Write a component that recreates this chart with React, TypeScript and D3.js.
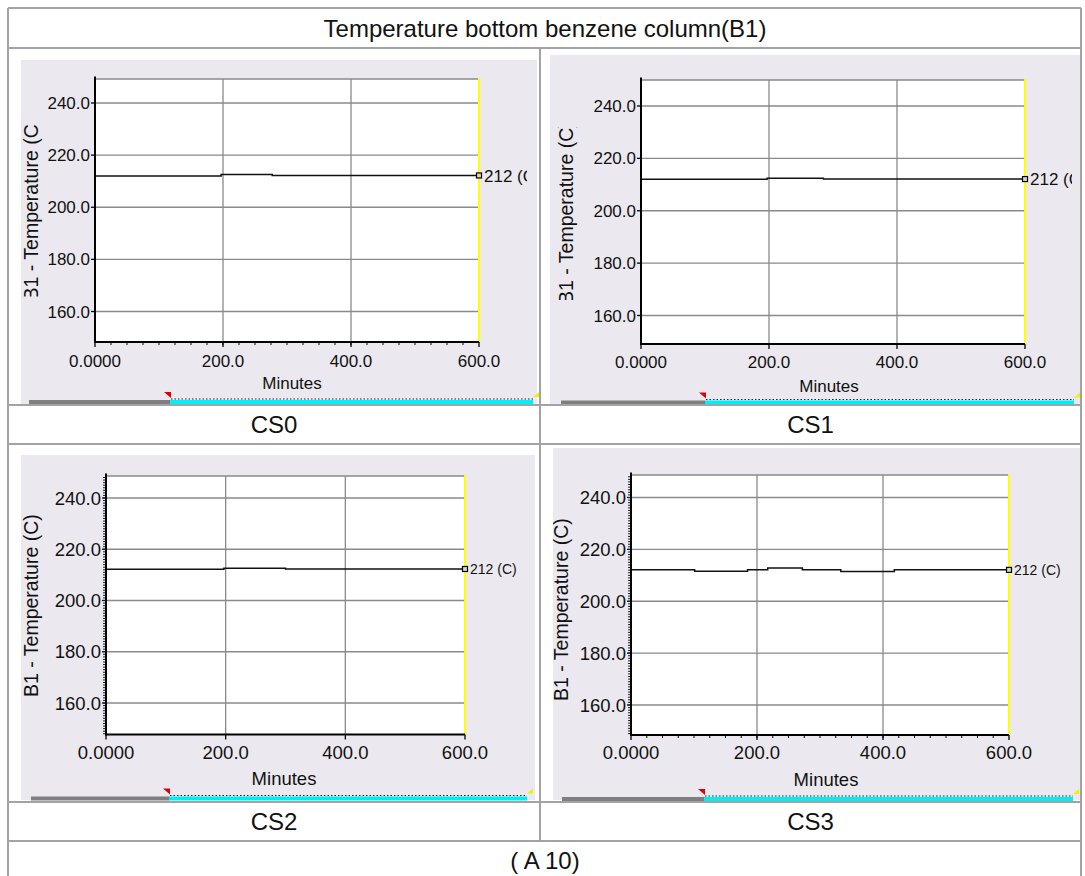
import React, { useRef, useEffect } from "react";
import * as d3 from "d3";

// axis values and labels
const minuteTicks = [0, 200, 400, 600];
const minuteLabels = ["0.0000", "200.0", "400.0", "600.0"];
const tempTicks = [160, 180, 200, 220, 240];
const tempLabels = ["160.0", "180.0", "200.0", "220.0", "240.0"];
const caseNames = ["CS0", "CS1", "CS2", "CS3"];
const title = "Temperature bottom benzene column(B1)";
const footer = "( A 10)";
const yTitle = "B1 - Temperature (C)";
const xTitle = "Minutes";
const endLabel = "212 (C)";

// step series: minute where value changes, value from there on
const cs0Time = [0, 197, 277, 600];
const cs0Temp = [212.0, 212.6, 212.2, 212.2];
const cs1Time = [0, 197, 285, 600];
const cs1Temp = [212.0, 212.4, 212.1, 212.1];
const cs2Time = [0, 197, 300, 600];
const cs2Temp = [212.2, 212.6, 212.3, 212.3];
const cs3Time = [0, 101, 185, 217, 272, 333, 418, 600];
const cs3Temp = [212.1, 211.6, 212.1, 212.8, 212.1, 211.5, 212.1, 212.1];

const seriesTime = [cs0Time, cs1Time, cs2Time, cs3Time];
const seriesTemp = [cs0Temp, cs1Temp, cs2Temp, cs3Temp];

const FONT = "'Liberation Sans', Arial, sans-serif";

// layout of each pasted screenshot
const layouts = [
  { panel: [21, 60, 516, 344], x0: 95, x1: 479, y160: 311.5, y240: 103, top: 79, bottom: 342,
    tick: 17, ylab: 19.5, ylabX: 31, ylabStart: 300.5, ylabClip: [124, 296.5], minorX: true, minorY: false,
    val: 17, valClip: 527, xLabY: 361, minY: 383, minX: 292,
    bar: { g0: 29, g1: 170, c1: 533, y: 402 }, cap: [274, 424.5] },
  { panel: [550, 55, 530, 349], x0: 641, x1: 1025, y160: 315.5, y240: 106, top: 80, bottom: 344,
    tick: 17, ylab: 19.5, ylabX: 566, ylabStart: 304, ylabClip: [127, 300], minorX: false, minorY: false,
    val: 17, valClip: 1072, xLabY: 362, minY: 386, minX: 829,
    bar: { g0: 561, g1: 705, c1: 1074, y: 402.5 }, cap: [810.5, 424.5] },
  { panel: [21, 455, 514, 345], x0: 106, x1: 465, y160: 703, y240: 498, top: 476, bottom: 734.5,
    tick: 18.5, ylab: 19.5, ylabX: 31, ylabStart: 697, ylabClip: null, minorX: false, minorY: true,
    val: 14, valClip: 535, xLabY: 752, minY: 778, minX: 284,
    bar: { g0: 31, g1: 169, c1: 527, y: 798.5 }, cap: [274, 821.5] },
  { panel: [553, 448, 527, 352], x0: 631, x1: 1009, y160: 705, y240: 497.5, top: 475, bottom: 735,
    tick: 18.5, ylab: 19.5, ylabX: 561, ylabStart: 701, ylabClip: null, minorX: true, minorY: true,
    val: 14, valClip: 1080, xLabY: 752, minY: 779, minX: 826,
    bar: { g0: 562, g1: 704, c1: 1073, y: 799 }, cap: [810.5, 821.5] },
];

function App() {
  const svgRef = useRef(null);

  useEffect(() => {
    const svg = d3.select(svgRef.current);
    svg.selectAll("*").remove();
    const defs = svg.append("defs");

    // table frame
    const border = "#a3a3a3";
    const hLines = [
      [8, 1081, 8], [8, 1081, 48], [8, 1081, 405], [8, 1081, 444], [8, 1081, 802], [8, 1081, 841],
    ];
    const vLines = [[8, 8, 876], [1081, 8, 876], [540, 48, 841]];

    layouts.forEach((L, i) => {
      const g = svg.append("g");
      const [px, py, pw, ph] = L.panel;
      g.append("rect").attr("x", px).attr("y", py).attr("width", pw).attr("height", ph).attr("fill", "#ebe9ef");

      const x = d3.scaleLinear().domain([0, 600]).range([L.x0, L.x1]);
      const y = d3.scaleLinear().domain([160, 240]).range([L.y160, L.y240]);

      g.append("rect").attr("x", L.x0).attr("y", L.top).attr("width", L.x1 - L.x0)
        .attr("height", L.bottom - L.top).attr("fill", "#fff");

      // grid
      g.selectAll(".hg").data(tempTicks).enter().append("line")
        .attr("x1", L.x0).attr("x2", L.x1).attr("y1", (d) => y(d)).attr("y2", (d) => y(d))
        .attr("stroke", "#8a8a8a").attr("stroke-width", 1.3);
      g.selectAll(".vg").data(minuteTicks.slice(1, 3)).enter().append("line")
        .attr("x1", (d) => x(d)).attr("x2", (d) => x(d)).attr("y1", L.top).attr("y2", L.bottom)
        .attr("stroke", "#8a8a8a").attr("stroke-width", 1.3);
      g.append("line").attr("x1", L.x0).attr("x2", L.x1).attr("y1", L.top).attr("y2", L.top)
        .attr("stroke", "#8a8a8a").attr("stroke-width", 1.3);
      g.append("line").attr("x1", L.x1).attr("x2", L.x1).attr("y1", L.top - 1).attr("y2", L.bottom)
        .attr("stroke", "#ffff00").attr("stroke-width", 2);

      // series
      const pts = seriesTime[i].map((t, k) => [t, seriesTemp[i][k]]);
      const line = d3.line().x((d) => x(d[0])).y((d) => y(d[1])).curve(d3.curveStepAfter);
      g.append("path").attr("d", line(pts)).attr("fill", "none").attr("stroke", "#111").attr("stroke-width", 1.5);

      // axes
      g.append("line").attr("x1", L.x0).attr("x2", L.x0).attr("y1", L.top - 2.5).attr("y2", L.bottom + 1)
        .attr("stroke", "#000").attr("stroke-width", 2);
      g.append("line").attr("x1", L.x0 - 1).attr("x2", L.x1).attr("y1", L.bottom).attr("y2", L.bottom)
        .attr("stroke", "#000").attr("stroke-width", 2);
      g.selectAll(".xt").data(minuteTicks).enter().append("line")
        .attr("x1", (d) => x(d)).attr("x2", (d) => x(d)).attr("y1", L.bottom).attr("y2", L.bottom + 5)
        .attr("stroke", "#000").attr("stroke-width", 1.3);
      if (L.minorX) {
        g.selectAll(".xm").data(d3.range(25, 600, 25)).enter().append("line")
          .attr("x1", (d) => x(d)).attr("x2", (d) => x(d)).attr("y1", L.bottom).attr("y2", L.bottom + 3)
          .attr("stroke", "#000").attr("stroke-width", 1);
      }
      g.selectAll(".yt").data(tempTicks).enter().append("line")
        .attr("x1", L.x0 - 4).attr("x2", L.x0).attr("y1", (d) => y(d)).attr("y2", (d) => y(d))
        .attr("stroke", "#000").attr("stroke-width", 1.3);
      if (L.minorY) {
        const lo = Math.ceil(y.invert(L.bottom));
        const hi = Math.floor(y.invert(L.top));
        g.selectAll(".ym").data(d3.range(lo, hi + 1)).enter().append("line")
          .attr("x1", L.x0 - 3).attr("x2", L.x0 - 1).attr("y1", (d) => y(d)).attr("y2", (d) => y(d))
          .attr("stroke", "#222").attr("stroke-width", 1);
      }

      // tick labels
      g.selectAll(".yl").data(tempTicks).enter().append("text")
        .attr("x", L.x0 - 5).attr("y", (d) => y(d)).attr("dy", "0.36em")
        .attr("text-anchor", "end").style("font-family", FONT).style("font-size", L.tick + "px")
        .style("fill", "#111").text((d, k) => tempLabels[k]);
      g.selectAll(".xl").data(minuteTicks).enter().append("text")
        .attr("x", (d) => x(d)).attr("y", L.xLabY).attr("dy", "0.36em")
        .attr("text-anchor", "middle").style("font-family", FONT).style("font-size", L.tick + "px")
        .style("fill", "#111").text((d, k) => minuteLabels[k]);
      g.append("text").attr("x", L.minX).attr("y", L.minY).attr("dy", "0.36em")
        .attr("text-anchor", "middle").style("font-family", FONT).style("font-size", L.tick + "px")
        .style("fill", "#111").text(xTitle);

      // y title (clipped in the upper screenshots)
      const yl = g.append("text")
        .attr("transform", `translate(${L.ylabX + L.ylab * 0.36},${L.ylabStart}) rotate(-90)`)
        .style("font-family", FONT).style("font-size", L.ylab + "px").style("fill", "#111").text(yTitle);
      if (L.ylabClip) {
        const id = "ylc" + i;
        defs.append("clipPath").attr("id", id).append("rect")
          .attr("x", px).attr("y", L.ylabClip[0]).attr("width", 40).attr("height", L.ylabClip[1] - L.ylabClip[0]);
        const wrap = g.append("g").attr("clip-path", `url(#${id})`);
        wrap.node().appendChild(yl.node());
      }

      // end value marker and label
      const last = pts[pts.length - 1];
      g.append("rect").attr("x", x(last[0]) - 2.5).attr("y", y(last[1]) - 2.5).attr("width", 5).attr("height", 5)
        .attr("fill", "#d8d8c0").attr("stroke", "#000").attr("stroke-width", 1.2);
      const vid = "vc" + i;
      defs.append("clipPath").attr("id", vid).append("rect")
        .attr("x", L.x1).attr("y", L.top).attr("width", L.valClip - L.x1).attr("height", L.bottom - L.top);
      g.append("g").attr("clip-path", `url(#${vid})`).append("text")
        .attr("x", x(last[0]) + 5).attr("y", y(last[1])).attr("dy", "0.36em")
        .style("font-family", FONT).style("font-size", L.val + "px").style("fill", "#111").text(endLabel);

      // time slider under the plot
      const b = L.bar;
      g.append("line").attr("x1", b.g0).attr("x2", b.g1).attr("y1", b.y).attr("y2", b.y)
        .attr("stroke", "#7f7f7f").attr("stroke-width", 4);
      g.append("line").attr("x1", b.g1).attr("x2", b.c1).attr("y1", b.y).attr("y2", b.y)
        .attr("stroke", "#00eef6").attr("stroke-width", 4);
      g.append("line").attr("x1", b.g1 + 1).attr("x2", b.c1).attr("y1", b.y - 3).attr("y2", b.y - 3)
        .attr("stroke", "#222").attr("stroke-width", 1).attr("stroke-dasharray", "1.5,2");
      g.append("polygon")
        .attr("points", `${b.g1 - 6},${b.y - 10} ${b.g1 + 1},${b.y - 10} ${b.g1 + 1},${b.y - 4}`)
        .attr("fill", "#e00000");
      g.append("polygon")
        .attr("points", `${b.c1},${b.y - 5} ${b.c1 + 6},${b.y - 10} ${b.c1 + 6},${b.y - 5}`)
        .attr("fill", "#f0f000");

      // case caption
      svg.append("text").attr("x", L.cap[0]).attr("y", L.cap[1]).attr("dy", "0.36em")
        .attr("text-anchor", "middle").style("font-family", FONT).style("font-size", "24px")
        .style("fill", "#111").text(caseNames[i]);
    });

    svg.selectAll(".hl").data(hLines).enter().append("line")
      .attr("x1", (d) => d[0]).attr("x2", (d) => d[1]).attr("y1", (d) => d[2]).attr("y2", (d) => d[2])
      .attr("stroke", border).attr("stroke-width", 2);
    svg.selectAll(".vl").data(vLines).enter().append("line")
      .attr("x1", (d) => d[0]).attr("x2", (d) => d[0]).attr("y1", (d) => d[1]).attr("y2", (d) => d[2])
      .attr("stroke", border).attr("stroke-width", 2);

    svg.append("text").attr("x", 545).attr("y", 28).attr("dy", "0.36em").attr("text-anchor", "middle")
      .style("font-family", FONT).style("font-size", "24px").style("fill", "#111").text(title);
    svg.append("text").attr("x", 545).attr("y", 860).attr("dy", "0.36em").attr("text-anchor", "middle")
      .style("font-family", FONT).style("font-size", "24px").style("fill", "#111").text(footer);
  }, []);

  return (
    <svg ref={svgRef} width={1085} height={876}
      style={{ position: "absolute", left: 0, top: 0, background: "#fff" }} />
  );
}

export default App;
